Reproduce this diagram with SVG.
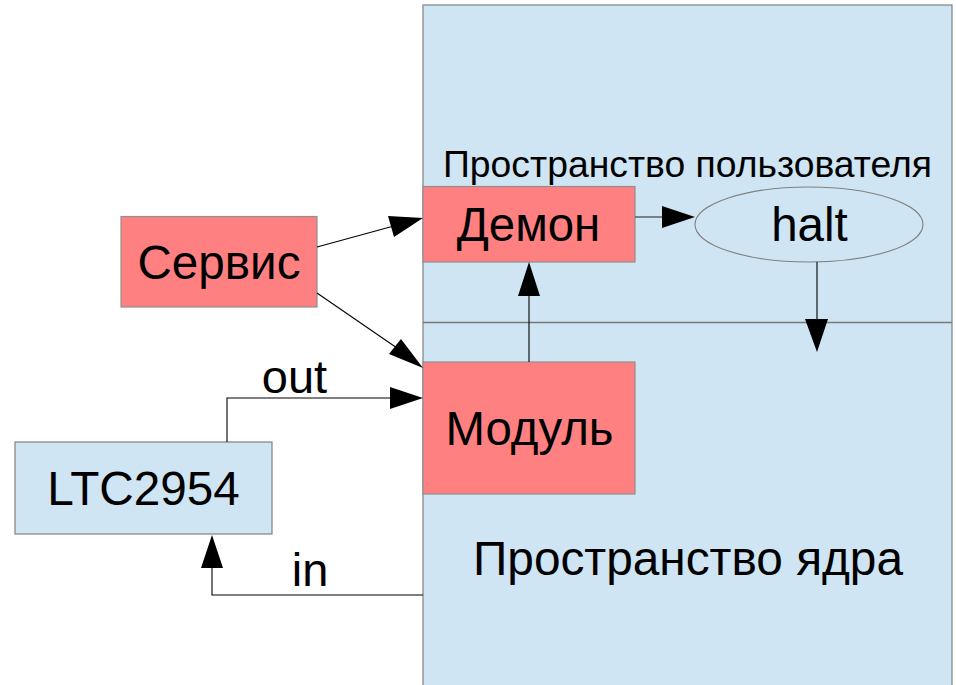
<svg xmlns="http://www.w3.org/2000/svg" width="956" height="685" viewBox="0 0 956 685">
<style>
.blue{fill:#cfe5f3;stroke:#808080;stroke-width:1.2}
.red{fill:#ff8080;stroke:#909090;stroke-width:1.2}
.t{font-family:"Liberation Sans",Arial,sans-serif;fill:#000}
.c{fill:none;stroke:#000;stroke-width:1.1}
.h{fill:#000}
</style>
<rect width="956" height="685" fill="#fff"/>
<g id="space">
<rect class="blue" x="423" y="5" width="529" height="690"/>
<line x1="423" y1="322.5" x2="952" y2="322.5" stroke="#7a7a7a" stroke-width="1.4"/>
<text class="t" x="443" y="177" font-size="37.4" textLength="489" lengthAdjust="spacingAndGlyphs">Пространство пользователя</text>
<text class="t" x="473" y="575" font-size="48" textLength="430" lengthAdjust="spacingAndGlyphs">Пространство ядра</text>
</g>
<g id="servis">
<rect class="red" x="121" y="216.5" width="196" height="90.5"/>
<text class="t" x="219" y="279" font-size="47.6" text-anchor="middle">Сервис</text>
</g>
<g id="demon">
<rect class="red" x="423" y="186.5" width="212" height="75.5"/>
<text class="t" x="528.5" y="241" font-size="47.4" text-anchor="middle">Демон</text>
</g>
<g id="halt">
<ellipse cx="809" cy="224.5" rx="114" ry="37.5" fill="#cfe5f3" stroke="#808080" stroke-width="1.1"/>
<text class="t" x="809.5" y="241" font-size="47.5" text-anchor="middle">halt</text>
</g>
<g id="modul">
<rect class="red" x="423" y="362" width="212" height="132"/>
<text class="t" x="529.5" y="445" font-size="47.4" text-anchor="middle">Модуль</text>
</g>
<g id="ltc">
<rect class="blue" x="15" y="442" width="257" height="92"/>
<text class="t" x="143.5" y="505" font-size="47.7" text-anchor="middle">LTC2954</text>
</g>
<g id="connectors">
<line class="c" x1="317" y1="247" x2="392" y2="226.5"/>
<polygon class="h" points="423,218 388,216 394,237"/>
<line class="c" x1="317" y1="293" x2="397" y2="348"/>
<polygon class="h" points="423,368 389,354 401,339"/>
<line class="c" x1="529" y1="362" x2="529" y2="295"/>
<polygon class="h" points="529,262 518,296 540,296"/>
<line x1="635" y1="217" x2="663" y2="217" stroke="#555" stroke-width="1.4"/>
<polygon class="h" points="695,217 662,206 662,228"/>
<line class="c" x1="817" y1="262" x2="817" y2="320"/>
<polygon class="h" points="817,352 805,319 828,319"/>
<polyline class="c" points="227,442 227,398 392,398"/>
<polygon class="h" points="423,398 390,387 390,409"/>
<polyline class="c" points="423,595 212,595 212,566"/>
<polygon class="h" points="212,535 201,568 223,568"/>
<text class="t" x="294.5" y="393" font-size="47" text-anchor="middle">out</text>
<text class="t" x="310" y="586" font-size="47" text-anchor="middle">in</text>
</g>
</svg>
